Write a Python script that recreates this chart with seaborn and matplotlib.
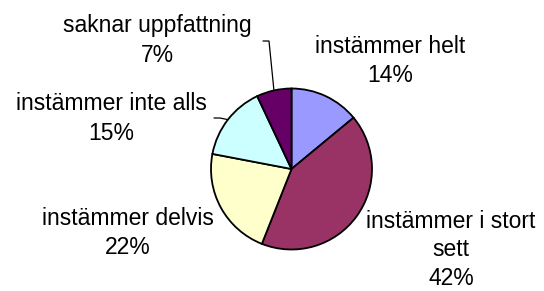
import numpy as np
import matplotlib
matplotlib.use("Agg")
import matplotlib.pyplot as plt
import seaborn as sns

# Data
categories = ["instämmer helt", "instämmer i stort\nsett", "instämmer delvis",
              "instämmer inte alls", "saknar uppfattning"]
values = [14, 42, 22, 15, 7]
pct_labels = ["14%", "42%", "22%", "15%", "7%"]
colors = ["#9999FF", "#993366", "#FFFFCC", "#CCFFFF", "#660066"]

sns.set_style("white")
plt.rcParams['font.family'] = ['Liberation Sans', 'DejaVu Sans']

W, H = 544, 291
fig = plt.figure(figsize=(W / 100, H / 100), dpi=100)
ax = fig.add_axes([0, 0, 1, 1])

cx, cy, r = 291.5, H - 169, 80.5
wedges, _ = ax.pie(values, colors=colors, startangle=90, counterclock=False,
                   center=(cx, cy), radius=r, frame=True,
                   wedgeprops=dict(edgecolor="black", linewidth=1.3))
ax.set_xlim(0, W)
ax.set_ylim(0, H)
ax.axis("off")

# label layout: center x, first-line baseline (image coords from top), line gap
label_pos = [(390, 53, 29.5), (451, 228, 28.5), (128, 225, 29.5),
             (111, 110, 29.5), (157, 32, 29.5)]
fs = 16.5
for cat, pct, (lx, ly, gap) in zip(categories, pct_labels, label_pos):
    lines = cat.split("\n") + [pct]
    for i, ln in enumerate(lines):
        ax.text(lx, H - (ly + i * gap), ln, ha="center", va="baseline",
                fontsize=fs, color="black")

# leader lines for the small slices
leaders = {4: (263, 41), 3: (214, 118)}
cum = np.cumsum([0] + values)
total = sum(values)
for idx, (sx, sy) in leaders.items():
    mid = (cum[idx] + cum[idx + 1]) / 2 / total
    ang = np.deg2rad(90 - 360 * mid)
    ex, ey = cx + r * np.cos(ang), cy + r * np.sin(ang)
    ax.plot([sx, sx + 6, ex], [H - sy, H - sy, ey], color="black", lw=0.9,
            solid_joinstyle="miter")

fig.savefig("out.png", dpi=100, facecolor="white")
